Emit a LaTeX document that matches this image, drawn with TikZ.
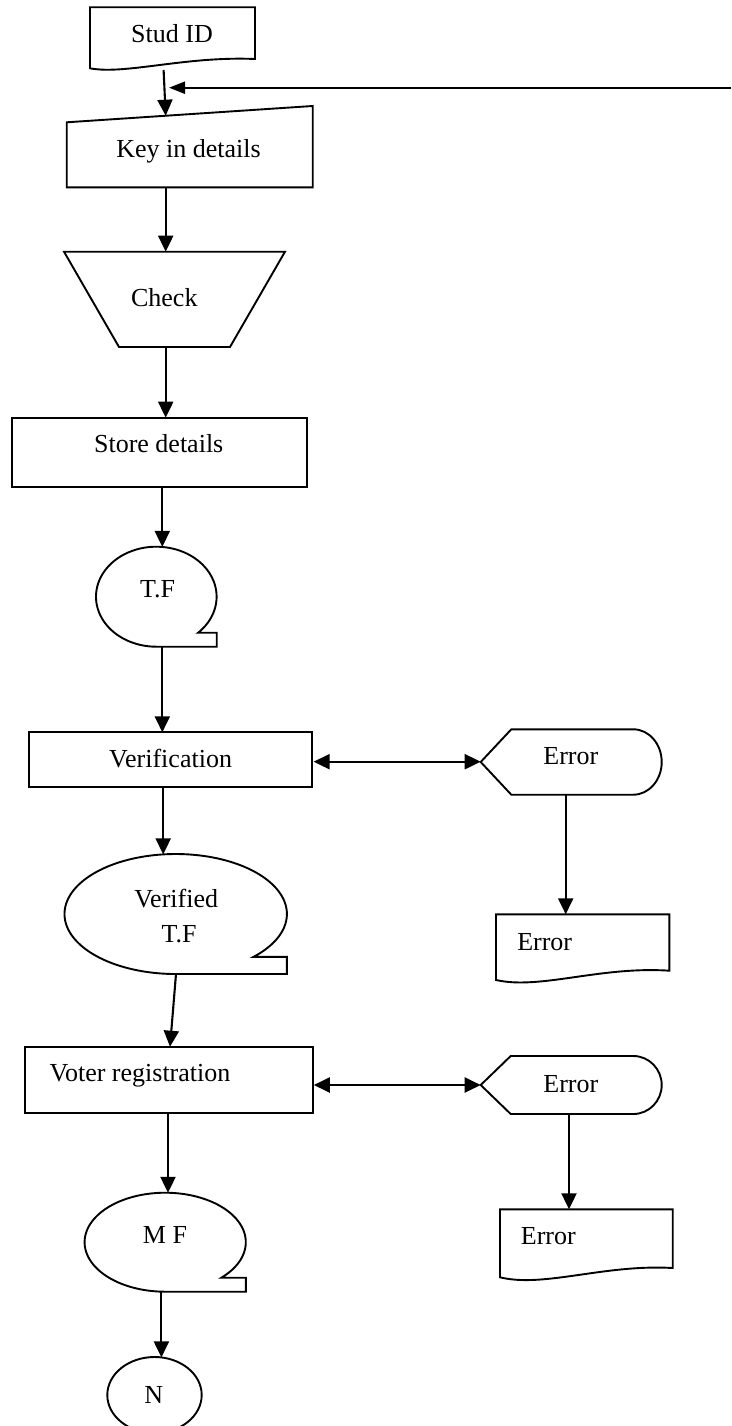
\documentclass[tikz,border=0pt]{standalone}
\usepackage{fontspec}
\setmainfont{Liberation Serif}
\usetikzlibrary{arrows.meta}
\newcommand{\tapeshape}[6]{%
  \draw[shp] plot[domain=90:#5, samples=140, variable=\t] ({#1+#3*cos(\t)},{#2+#4*sin(\t)})
    -- (#6,{#2+#4*sin(#5)}) -- (#6,{#2+#4}) -- cycle;}
\begin{document}
\begin{tikzpicture}[x=1pt,y=-1pt,
  shp/.style={draw, line width=1.9pt, line join=miter},
  arr/.style={-{Triangle[length=16pt,width=15pt]}, line width=2.1pt},
  farr/.style={-{Triangle[length=16pt,width=12pt]}, line width=2.1pt},
  darr/.style={{Triangle[length=16pt,width=15pt]}-{Triangle[length=16pt,width=15pt]}, line width=2.1pt},
  lbl/.style={font=\fontsize{26}{30}\selectfont, inner sep=0pt, text height=17.5pt, text depth=0pt, anchor=center}]
\fill[white] (0,0) rectangle (731,1426);
\useasboundingbox (0,0) rectangle (731,1426);

% ---- shapes ----
% Stud ID (document)
\draw[shp] (90,7.3) -- (255,7.3) -- (255,59) .. controls (185,56) and (125,75) .. (90,68.3) -- cycle;
\node[lbl] (sid) at (172,33.3) {Stud ID};
% Key in details (manual input)
\draw[shp] (66.7,122.3) -- (312.7,106) -- (312.7,187.3) -- (66.7,187.3) -- cycle;
\node[lbl] (key) at (188.5,149) {Key in details};
% Check (manual operation)
\draw[shp] (64,251.7) -- (285,251.7) -- (230,347) -- (119,347) -- cycle;
\node[lbl] (chk) at (164.3,297.5) {Check};
% Store details
\draw[shp] (11.7,417.7) rectangle (306.7,486.7);
\node[lbl] (sto) at (158.7,443.8) {Store details};
% T.F (tape)
\tapeshape{156.3}{596.7}{60.3}{50}{406.2}{216.7}
\node[lbl] (tf) at (157.5,588.7) {T.F};
% Verification
\draw[shp] (28.9,732.3) rectangle (312.4,787.3);
\node[lbl] (ver) at (170.6,759.2) {Verification};
% Error display 1
\draw[shp] (480.7,762) -- (511.3,729.3) -- (633.3,729.3) .. controls (649,729.3) and (661.7,744) .. (661.7,762)
  .. controls (661.7,780) and (649,794.7) .. (633.3,794.7) -- (511.3,794.7) -- cycle;
\node[lbl] (ed1) at (570.8,755.5) {Error};
% Error document 1
\draw[shp] (496,914.3) -- (669.3,914.3) -- (669.3,970.7) .. controls (600,966) and (540,990) .. (496,980) -- cycle;
\node[lbl] (eo1) at (544.7,942) {Error};
% Verified T.F (tape)
\tapeshape{175.7}{914}{111.2}{60}{405.5}{286.9}
\node[lbl] (vtf) at (176.2,898.7) {Verified};
\node[lbl] (vtf2) at (179,933.3) {T.F};
% Voter registration
\draw[shp] (25,1046.7) rectangle (312.7,1113.3);
\node[lbl] (vot) at (140,1073) {Voter registration};
% Error display 2
\draw[shp] (480.7,1085) -- (510.7,1056) -- (633.3,1056) .. controls (649,1056) and (661.7,1069) .. (661.7,1085)
  .. controls (661.7,1101) and (649,1114) .. (633.3,1114) -- (510.7,1114) -- cycle;
\node[lbl] (ed2) at (570.8,1083.8) {Error};
% Error document 2
\draw[shp] (500,1209.3) -- (672.7,1209.3) -- (672.7,1268) .. controls (604,1264) and (544,1288) .. (500,1277.3) -- cycle;
\node[lbl] (eo2) at (548.3,1235.8) {Error};
% M F (tape)
\tapeshape{165.2}{1242.2}{80.6}{49.5}{405.8}{245.8}
\node[lbl] (mf) at (165,1234.5) {M F};
% N (connector)
\draw[shp] (154.5,1395) ellipse [x radius=47.2, y radius=38];
\node[lbl] (n) at (153.8,1394.7) {N};

% ---- connection points ----
\coordinate (sid-s) at (163.6,70);
\coordinate (key-n) at (165.7,115.7);
\coordinate (fb) at (731,87.7);
\coordinate (fb-t) at (169,87.7);
\coordinate (key-s) at (165.7,187.3);
\coordinate (chk-n) at (165.7,251.7);
\coordinate (chk-s) at (165.7,347);
\coordinate (sto-n) at (165.7,417.7);
\coordinate (sto-s) at (162.3,486.7);
\coordinate (tf-n) at (162.3,546.9);
\coordinate (tf-s) at (162.3,646.7);
\coordinate (ver-n) at (162.3,732.3);
\coordinate (ver-e) at (313.6,761.7);
\coordinate (ed1-w) at (480.7,761.7);
\coordinate (ver-s) at (163.2,787.3);
\coordinate (vtf-n) at (163.2,854.4);
\coordinate (ed1-s) at (565.7,794.7);
\coordinate (eo1-n) at (565.7,914.3);
\coordinate (vtf-s) at (176,974);
\coordinate (vot-n) at (170,1046.7);
\coordinate (vot-e) at (313.8,1085);
\coordinate (ed2-w) at (480.7,1085);
\coordinate (ed2-s) at (569,1114);
\coordinate (eo2-n) at (569,1209.3);
\coordinate (vot-s) at (168,1113.3);
\coordinate (mf-n) at (168,1192.8);
\coordinate (mf-s) at (161.4,1291.7);
\coordinate (n-n) at (161.4,1357.4);

% ---- connectors ----
\draw[arr] (sid-s) -- (key-n);
\draw[farr] (fb) -- (fb-t);
\draw[arr] (key-s) -- (chk-n);
\draw[arr] (chk-s) -- (sto-n);
\draw[arr] (sto-s) -- (tf-n);
\draw[arr] (tf-s) -- (ver-n);
\draw[darr] (ver-e) -- (ed1-w);
\draw[arr] (ver-s) -- (vtf-n);
\draw[arr] (ed1-s) -- (eo1-n);
\draw[arr] (vtf-s) -- (vot-n);
\draw[darr] (vot-e) -- (ed2-w);
\draw[arr] (ed2-s) -- (eo2-n);
\draw[arr] (vot-s) -- (mf-n);
\draw[arr] (mf-s) -- (n-n);
\end{tikzpicture}
\end{document}
